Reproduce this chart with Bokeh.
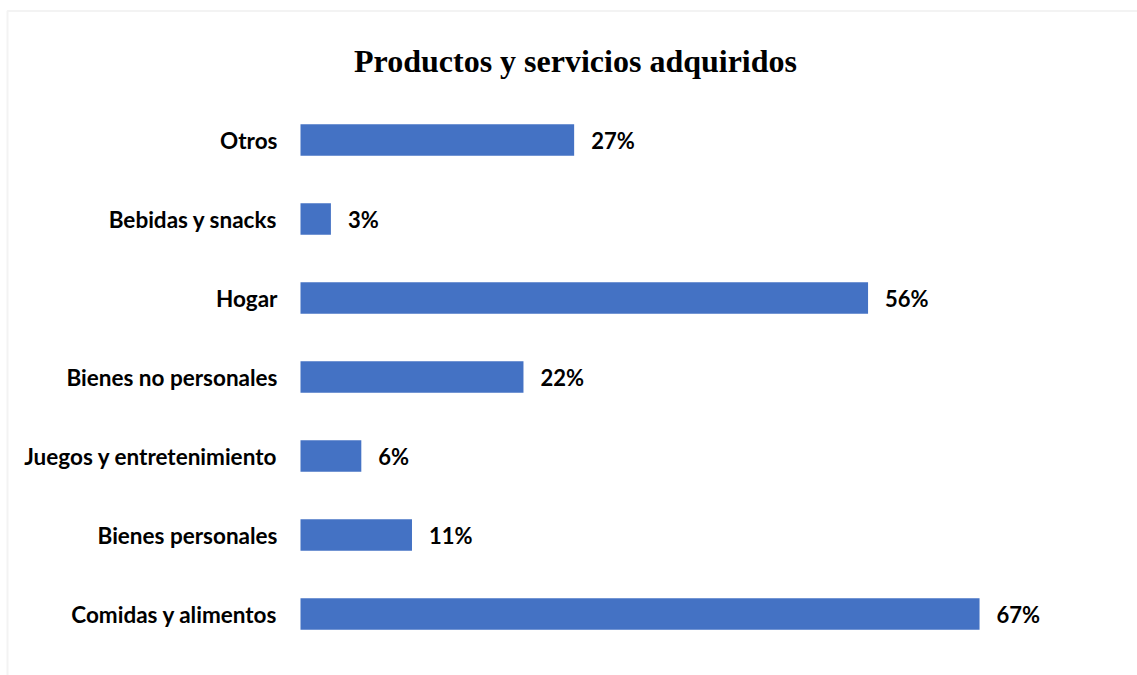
from bokeh.plotting import figure
from bokeh.models import Range1d, BoxAnnotation, ColumnDataSource
from bokeh.core.properties import value
from bokeh.embed import file_html
from bokeh.resources import INLINE

# ---- data (bottom to top) ----
categories = ["Comidas y alimentos", "Bienes personales", "Juegos y entretenimiento",
              "Bienes no personales", "Hogar", "Bebidas y snacks", "Otros"]
percentages = [67, 11, 6, 22, 56, 3, 27]
value_labels = [f"{v}%" for v in percentages]
title_text = "Productos y servicios adquiridos"

# ---- layout constants (pixels) ----
W, H = 1137, 675
BAR_X0 = 300.0          # pixel where 0% sits
PX_PER_PCT = 10.135     # pixels per percentage point
ROW0_Y = 613.5          # pixel centre of the bottom row
ROW_STEP = 79.0         # pixels between rows


def xd(px):
    return (px - BAR_X0) / PX_PER_PCT


def yd(py):
    return (ROW0_Y - py) / ROW_STEP


rows = list(range(len(categories)))
src = ColumnDataSource(dict(cat=categories, val=percentages, lab=value_labels, row=rows))

p = figure(width=W, height=H, output_backend="svg", toolbar_location=None,
           x_range=Range1d(xd(0), xd(W)), y_range=Range1d(yd(H), yd(0)),
           x_axis_type=None, y_axis_type=None, min_border=0,
           outline_line_color=None, background_fill_color="white",
           border_fill_color="white")
p.grid.visible = False

# chart border (top and left visible)
p.add_layout(BoxAnnotation(left=xd(7), right=xd(W + 20), top=yd(10.5), bottom=yd(H + 20),
                           fill_color=None, line_color="#d6d6d6", line_width=2))

p.hbar(y="row", left=0, right="val", height=31.5 / ROW_STEP, source=src,
       fill_color="#4472C4", line_color=None)

p.text(x=0, y="row", text="cat", source=src, x_offset=-23,
       text_align="right", text_baseline="middle",
       text_font=value("Lato"), text_font_style="bold", text_font_size="22.5px",
       text_color="black")

p.text(x="val", y="row", text="lab", source=src, x_offset=17,
       text_align="left", text_baseline="middle",
       text_font=value("Lato"), text_font_style="bold", text_font_size="22px",
       text_color="black")

p.text(x=[xd(575)], y=[yd(60)], text=[title_text],
       text_align="center", text_baseline="alphabetic",
       text_font=value("Liberation Serif"), text_font_style="bold",
       text_font_size="32px", text_color="black")

open("out.html", "w").write(file_html(p, INLINE))
